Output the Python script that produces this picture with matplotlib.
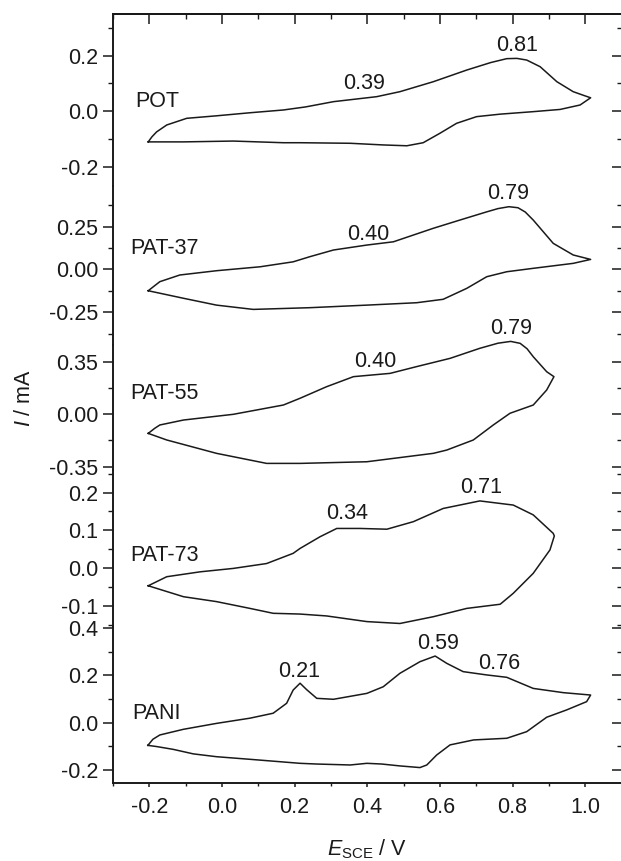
import matplotlib.pyplot as plt
from matplotlib.ticker import MultipleLocator, FuncFormatter

plt.rcParams['font.family'] = ['Liberation Sans', 'DejaVu Sans']
plt.rcParams['mathtext.fontset'] = 'custom'
plt.rcParams['mathtext.rm'] = 'Liberation Sans'
plt.rcParams['mathtext.it'] = 'Liberation Sans:italic'
plt.rcParams['axes.unicode_minus'] = False

# ---- data (E / V, I / mA) ----
pot_x = [-0.203, -0.193, -0.180, -0.152, -0.097, -0.015, 0.077, 0.169, 0.230, 0.307, 0.426, 0.490,
         0.582, 0.674, 0.740, 0.784, 0.812, 0.839, 0.876, 0.922, 0.967, 0.995, 1.015,
         0.986, 0.931, 0.857, 0.766, 0.701, 0.646, 0.600, 0.554, 0.509, 0.444, 0.353, 0.215,
         0.169, 0.031, -0.106, -0.203]
pot_y = [-0.111, -0.093, -0.075, -0.050, -0.026, -0.017, -0.006, 0.004, 0.015, 0.034, 0.052, 0.070,
         0.106, 0.148, 0.175, 0.189, 0.190, 0.184, 0.160, 0.106, 0.070, 0.057, 0.048,
         0.022, 0.006, -0.002, -0.011, -0.020, -0.044, -0.080, -0.114, -0.125, -0.122, -0.116, -0.114,
         -0.114, -0.108, -0.111, -0.111]

pat37_x = [-0.203, -0.185, -0.171, -0.116, -0.015, 0.105, 0.196, 0.242, 0.307, 0.399, 0.472, 0.582,
           0.655, 0.729, 0.760, 0.790, 0.815, 0.835, 0.857, 0.912, 0.967, 1.015,
           0.967, 0.857, 0.784, 0.729, 0.674, 0.609, 0.536, 0.399, 0.242, 0.086, -0.015, -0.106, -0.203]
pat37_y = [-0.125, -0.095, -0.072, -0.033, -0.008, 0.015, 0.044, 0.074, 0.113, 0.142, 0.161, 0.240,
           0.288, 0.336, 0.355, 0.366, 0.360, 0.335, 0.288, 0.152, 0.084, 0.058,
           0.035, 0.006, -0.014, -0.043, -0.111, -0.175, -0.195, -0.209, -0.224, -0.234, -0.209, -0.169, -0.125]

pat55_x = [-0.203, -0.185, -0.171, -0.106, 0.031, 0.169, 0.215, 0.288, 0.362, 0.463, 0.536, 0.628,
           0.710, 0.760, 0.795, 0.821, 0.840, 0.857, 0.894, 0.914,
           0.894, 0.857, 0.793, 0.747, 0.692, 0.619, 0.582, 0.399, 0.215, 0.123, -0.015, -0.152, -0.203]
pat55_y = [-0.129, -0.095, -0.073, -0.040, -0.002, 0.060, 0.105, 0.182, 0.249, 0.271, 0.316, 0.371,
           0.438, 0.472, 0.484, 0.471, 0.435, 0.382, 0.282, 0.249,
           0.160, 0.060, 0.005, -0.073, -0.173, -0.240, -0.262, -0.318, -0.329, -0.329, -0.262, -0.173, -0.129]

pat73_x = [-0.203, -0.152, -0.060, 0.031, 0.123, 0.196, 0.215, 0.270, 0.316, 0.380, 0.454, 0.527,
           0.609, 0.710, 0.802, 0.857, 0.912, 0.915,
           0.903, 0.857, 0.802, 0.766, 0.674, 0.582, 0.490, 0.399, 0.288, 0.215, 0.141, 0.077,
           -0.015, -0.106, -0.203]
pat73_y = [-0.047, -0.023, -0.010, -0.001, 0.012, 0.039, 0.052, 0.083, 0.105, 0.105, 0.103, 0.123,
           0.158, 0.178, 0.167, 0.141, 0.092, 0.085,
           0.048, -0.014, -0.067, -0.096, -0.107, -0.129, -0.147, -0.142, -0.127, -0.122, -0.120, -0.107,
           -0.089, -0.076, -0.047]

pani_x = [-0.204, -0.190, -0.171, -0.106, -0.015, 0.077, 0.141, 0.178, 0.196, 0.215, 0.233, 0.261,
          0.307, 0.399, 0.444, 0.490, 0.545, 0.587, 0.619, 0.664, 0.729, 0.784, 0.857, 0.940, 1.015,
          1.004, 0.949, 0.894, 0.839, 0.784, 0.693, 0.628, 0.591, 0.564, 0.545, 0.490, 0.440, 0.399,
          0.353, 0.261, 0.215, 0.077, -0.015, -0.079, -0.134, -0.180, -0.204]
pani_y = [-0.096, -0.070, -0.052, -0.028, -0.003, 0.019, 0.040, 0.082, 0.138, 0.167, 0.140, 0.103,
          0.099, 0.124, 0.152, 0.209, 0.258, 0.282, 0.251, 0.216, 0.202, 0.192, 0.145, 0.127, 0.117,
          0.089, 0.054, 0.023, -0.038, -0.066, -0.073, -0.094, -0.137, -0.179, -0.190, -0.183, -0.175, -0.172,
          -0.179, -0.175, -0.172, -0.155, -0.144, -0.132, -0.113, -0.101, -0.096]

names = ['POT', 'PAT-37', 'PAT-55', 'PAT-73', 'PANI']
loops_x = [pot_x, pat37_x, pat55_x, pat73_x, pani_x]
loops_y = [pot_y, pat37_y, pat55_y, pat73_y, pani_y]
name_pos = [(-0.239, 0.036), (-0.253, 0.119), (-0.253, 0.14), (-0.253, 0.034), (-0.248, 0.04)]
peak_text = [['0.39', '0.81'], ['0.40', '0.79'], ['0.40', '0.79'], ['0.34', '0.71'], ['0.21', '0.59', '0.76']]
peak_pos = [[(0.390, 0.098), (0.812, 0.237)],
            [(0.403, 0.202), (0.788, 0.444)],
            [(0.421, 0.349), (0.795, 0.571)],
            [(0.345, 0.144), (0.714, 0.214)],
            [(0.212, 0.216), (0.594, 0.334), (0.764, 0.251)]]

# ---- layout (pixels) ----
W, H = 621, 861
left, right = 113, 621.5
edges = [14, 186, 345, 470, 626.5, 782.7]
ylims = [(-0.27, 0.35), (-0.442, 0.487), (-0.373, 0.46), (-0.155, 0.26), (-0.254, 0.407)]
ysteps = [0.2, 0.25, 0.35, 0.1, 0.2]
yfmt = ['%.1f', '%.2f', '%.2f', '%.1f', '%.1f']
fs = 15.5
col = '#1a1a1a'

fig = plt.figure(figsize=(W / 100, H / 100), dpi=100)

for i in range(5):
    ax = fig.add_axes([left / W, 1 - edges[i + 1] / H, (right - left) / W, (edges[i + 1] - edges[i]) / H])
    ax.set_facecolor('none')
    ax.plot(loops_x[i], loops_y[i], color=col, lw=1.1, clip_on=False, solid_joinstyle='round')
    ax.set_xlim(-0.3, 1.1)
    ax.set_ylim(*ylims[i])
    ax.yaxis.set_major_locator(MultipleLocator(ysteps[i]))
    ax.yaxis.set_minor_locator(MultipleLocator(ysteps[i] / 2))
    f = yfmt[i]
    ax.yaxis.set_major_formatter(FuncFormatter(lambda v, p, f=f: (f % v).replace('-0.00', '0.00').replace('-0.0', '0.0')))
    ax.tick_params(axis='y', which='major', direction='out', length=7.2, width=1.1, pad=3.5,
                   labelsize=fs, colors=col)
    ax.tick_params(axis='y', which='minor', direction='out', length=3.6, width=1.0, colors=col)
    for s in ['left', 'right', 'top', 'bottom']:
        ax.spines[s].set_linewidth(1.4)
        ax.spines[s].set_color(col)
    if i > 0:
        ax.spines['top'].set_visible(False)
    if i < 4:
        ax.spines['bottom'].set_visible(False)

    # right side ticks pointing inward
    sec = ax.secondary_yaxis('right')
    sec.yaxis.set_major_locator(MultipleLocator(ysteps[i]))
    sec.yaxis.set_minor_locator(MultipleLocator(ysteps[i] / 2))
    sec.tick_params(axis='y', which='major', direction='in', length=7.2, width=1.1, labelright=False, colors=col)
    sec.tick_params(axis='y', which='minor', direction='in', length=3.6, width=1.0, colors=col)
    sec.spines['right'].set_linewidth(1.4)

    ax.xaxis.set_major_locator(MultipleLocator(0.2))
    ax.xaxis.set_minor_locator(MultipleLocator(0.1))
    if i < 4:
        ax.tick_params(axis='x', which='both', bottom=False, labelbottom=False)
    else:
        ax.xaxis.set_major_formatter(FuncFormatter(lambda v, p: ('%.1f' % v).replace('-0.0', '0.0')))
        ax.tick_params(axis='x', which='major', direction='out', length=3, width=1.1, pad=7,
                       labelsize=fs, colors=col)
        ax.tick_params(axis='x', which='minor', direction='out', length=2, width=1.0, colors=col)
    if i == 0:
        top = ax.secondary_xaxis('top')
        top.xaxis.set_major_locator(MultipleLocator(0.2))
        top.xaxis.set_minor_locator(MultipleLocator(0.1))
        top.tick_params(axis='x', which='major', direction='in', length=7.2, width=1.1, labeltop=False, colors=col)
        top.tick_params(axis='x', which='minor', direction='in', length=3.6, width=1.0, colors=col)
        top.spines['top'].set_linewidth(1.4)

    ax.text(name_pos[i][0], name_pos[i][1], names[i], ha='left', va='center', fontsize=fs, color=col)
    for t, (px, py) in zip(peak_text[i], peak_pos[i]):
        ax.text(px, py, t, ha='center', va='center', fontsize=fs, color=col)

fig.text(24 / W, 1 - 398 / H, r'$I$ / mA', rotation=90, ha='center', va='center', fontsize=fs, color=col)
fig.text(367 / W, 1 - 855 / H, r'$E_{\mathrm{SCE}}$ / V', ha='center', va='baseline', fontsize=fs, color=col)

fig.savefig('out.png', dpi=100)
